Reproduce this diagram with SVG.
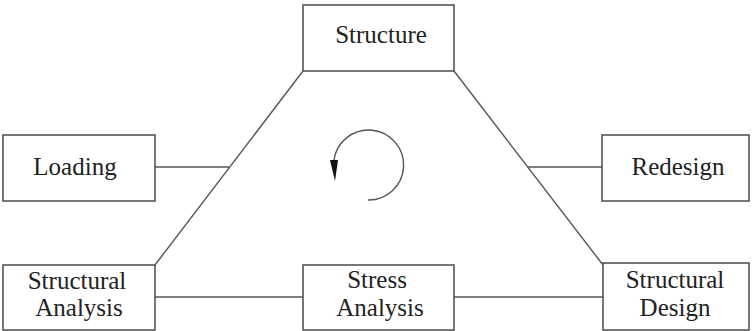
<svg xmlns="http://www.w3.org/2000/svg" width="752" height="331" viewBox="0 0 752 331">
<style>
.box{fill:#fff;stroke:#555;stroke-width:1.6}
.ln{fill:none;stroke:#555;stroke-width:1.4}
</style>
<g id="connectors">
<path class="ln" d="M303,71 L155,265"/>
<path class="ln" d="M454,71 L603,265"/>
<path class="ln" d="M155,167 L229,167"/>
<path class="ln" d="M528,167 L602,167"/>
<path class="ln" d="M155,297 L303,297"/>
<path class="ln" d="M454,297 L603,297"/>
<path class="ln" d="M368,200 A35,35 0 1 0 334,160"/>
<path d="M330,160 L338,160 L335,181 Z" fill="#111"/>
</g>
<g font-family="Liberation Serif, Times New Roman, serif" font-size="25" fill="#222" text-anchor="middle">
<g id="structure"><rect class="box" x="303" y="5" width="151" height="66"/><text x="381" y="43">Structure</text></g>
<g id="loading"><rect class="box" x="3" y="135" width="152" height="66"/><text x="75" y="175">Loading</text></g>
<g id="redesign"><rect class="box" x="602" y="135" width="147" height="66"/><text x="678" y="175">Redesign</text></g>
<g id="structural-analysis"><rect class="box" x="3" y="265" width="152" height="65"/><text x="77" y="289">Structural</text><text x="79" y="316">Analysis</text></g>
<g id="stress-analysis"><rect class="box" x="303" y="265" width="151" height="65"/><text x="377" y="288">Stress</text><text x="380" y="316">Analysis</text></g>
<g id="structural-design"><rect class="box" x="603" y="263" width="146" height="67"/><text x="675" y="288">Structural</text><text x="675" y="316">Design</text></g>
</g>
</svg>
